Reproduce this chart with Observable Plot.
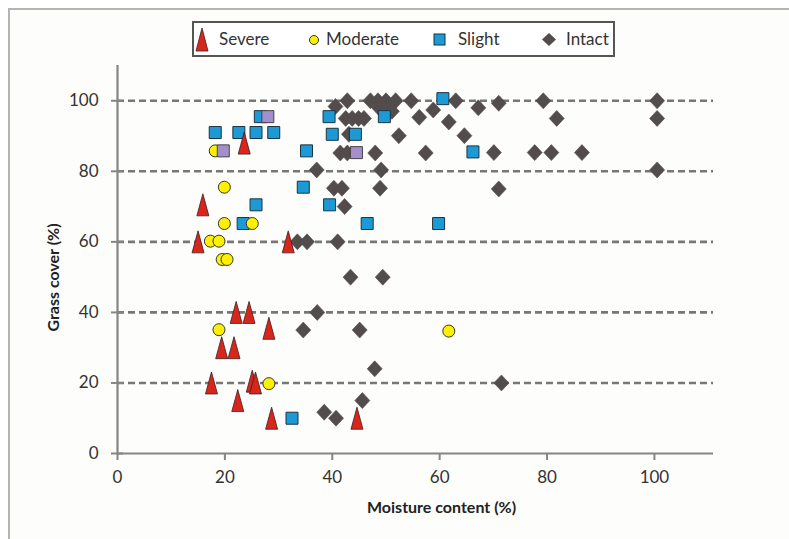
<!DOCTYPE html>
<html><head><meta charset="utf-8">
<script src="https://cdn.jsdelivr.net/npm/d3@7"></script>
<script src="https://cdn.jsdelivr.net/npm/@observablehq/plot@0.6"></script>
<style>
html,body{margin:0;padding:0;background:#fff;width:789px;height:539px;overflow:hidden;font-family:Lato,"Open Sans",sans-serif;}
#frame{position:absolute;left:8px;top:8px;width:820px;height:560px;border:2px solid #b4b4b4;background:#fdfdfb;}
#chart{position:absolute;left:0;top:0;width:789px;height:539px;padding-top:21px;box-sizing:border-box;}
#legend{position:relative;margin-left:192px;width:423px;height:36px;border:2px solid #555;box-sizing:border-box;background:#fff;}
.icon{position:absolute;top:0;}
.lab{position:absolute;top:6px;font-size:17px;color:#333;line-height:20px;}
svg.plot{display:block;}
</style></head>
<body>
<div id="frame"></div>
<div id="chart">
  <div id="legend"></div>
</div>
<script>
// ---- data ----
const seriesNames = ["Severe", "Moderate", "Slight", "Intact"];

const severeX = [15.9, 23.6, 15.0, 31.8, 22.1, 24.5, 28.2, 19.4, 21.7, 17.5, 25.1, 25.7, 22.4, 28.7, 44.6];
const severeY = [70.5, 88, 60, 60, 40, 40, 35.5, 30, 30, 20, 20.5, 20, 15, 10, 10];

const moderateX = [18.2, 19.9, 19.9, 25.1, 17.3, 18.9, 19.5, 20.4, 18.9, 28.2, 61.7];
const moderateY = [85.8, 75.5, 65.2, 65.2, 60.2, 60.2, 55, 55, 35.1, 19.8, 34.7];

const slightX = [18.2, 22.6, 25.8, 29.1, 26.6, 35.2, 34.6, 25.8, 23.4, 32.5, 39.4, 40.0, 44.3, 49.7, 60.6, 66.2, 39.5, 46.5, 59.8];
const slightY = [91, 91, 91, 91, 95.5, 85.8, 75.5, 70.5, 65.2, 10, 95.5, 90.5, 90.5, 95.5, 100.6, 85.5, 70.5, 65.2, 65.2];

// overlapping (purple) squares
const overlapX = [28.0, 19.7, 44.5];
const overlapY = [95.5, 85.8, 85.3];

const intactX = [42.8, 47.1, 48.5, 50.0, 51.8, 54.7, 63.0, 79.3, 100.5,
  40.6, 48.7, 50.5, 67.2, 71.0, 51.1, 58.8,
  42.5, 43.7, 44.9, 45.9, 56.2, 61.7, 81.8, 100.5,
  43.1, 52.4, 64.6,
  41.5, 42.8, 48.0, 57.4, 70.1, 77.7, 80.8, 86.5,
  37.1, 49.1, 100.5,
  40.3, 41.8, 48.9, 71.0,
  42.3,
  33.5, 35.3, 41.0,
  43.4, 49.4,
  37.2,
  34.6, 45.1,
  47.9, 71.5, 45.6, 38.5, 40.7];
const intactY = [100, 100, 100, 100, 100, 100, 100, 100, 100,
  98.4, 98, 98, 98, 99.3, 97, 97.4,
  95, 95, 95, 95, 95.3, 94, 95, 95,
  90.5, 90.1, 90.1,
  85.2, 85.2, 85.2, 85.2, 85.3, 85.3, 85.3, 85.3,
  80.4, 80.4, 80.4,
  75.2, 75.2, 75.2, 75,
  70,
  60, 60, 60,
  50, 50,
  40,
  35, 35,
  24, 20, 15, 11.7, 10];

const xTicks = [0, 20, 40, 60, 80, 100];
const yTicks = [0, 20, 40, 60, 80, 100];
const gridY = [20, 40, 60, 80, 100];
const xLabel = "Moisture content (%)";
const yLabel = "Grass cover (%)";

// ---- build ----
const zip = (xs, ys) => xs.map((x, i) => ({x, y: ys[i]}));
const severe = zip(severeX, severeY);
const moderate = zip(moderateX, moderateY);
const slight = zip(slightX, slightY);
const overlap = zip(overlapX, overlapY);
const intact = zip(intactX, intactY);

const triSym = {draw(c){ c.moveTo(0,-11); c.lineTo(6,11); c.lineTo(-6,11); c.closePath(); }};
const sqSym = {draw(c){ c.moveTo(-6,-6); c.lineTo(6,-6); c.lineTo(6,6); c.lineTo(-6,6); c.closePath(); }};
const diaSym = {draw(c){ c.moveTo(0,-8); c.lineTo(7.5,0); c.lineTo(0,8); c.lineTo(-7.5,0); c.closePath(); }};

const RED = "#d8261d", YEL = "#fff000", BLU = "#1b9ad6", DIA = "#524c4c", PUR = "#a38fcb";

const chart = Plot.plot({
  width: 789, height: 482,
  marginTop: 8, marginLeft: 117, marginRight: 76, marginBottom: 86,
  x: {domain: [0, 111]},
  y: {domain: [0, 110]},
  style: {background: "transparent", fontFamily: "Lato, sans-serif", fontSize: "17px", color: "#333"},
  marks: [
    Plot.ruleY(gridY, {x1: 0, x2: 111, stroke: "#777", strokeWidth: 2.6, strokeDasharray: "7,4"}),
    Plot.ruleX([0], {y1: 0, y2: 110, stroke: "#858585", strokeWidth: 2.2}),
    Plot.ruleY([0], {x1: 0, x2: 111, stroke: "#858585", strokeWidth: 2.2}),
    Plot.ruleY(yTicks, {x1: 0, x2: 0, insetLeft: -6, insetRight: -6, stroke: "#858585", strokeWidth: 2}),
    Plot.axisY({ticks: yTicks, tickSize: 0, tickPadding: 19, label: null, tickFormat: d => d}),
    Plot.axisX({ticks: xTicks, tickSize: 7, tickPadding: 10, label: null, stroke: "#858585", strokeWidth: 2, tickFormat: d => d}),
    Plot.dot(intact, {x: "x", y: "y", symbol: diaSym, r: 7, fill: DIA, stroke: DIA, strokeWidth: 0.6}),
    Plot.dot(slight, {x: "x", y: "y", symbol: sqSym, r: 6, fill: BLU, stroke: "#1d3440", strokeWidth: 1}),
    Plot.dot(moderate, {x: "x", y: "y", r: 6, fill: YEL, stroke: "#333", strokeWidth: 1}),
    Plot.dot(overlap, {x: "x", y: "y", symbol: sqSym, r: 6, fill: PUR, stroke: "#444", strokeWidth: 1}),
    Plot.dot(severe, {x: "x", y: "y", symbol: triSym, r: 6, fill: RED, stroke: "#3a2020", strokeWidth: 0.8}),
    Plot.text([xLabel], {text: d => d, frameAnchor: "bottom", dx: 26, dy: 59, fontWeight: "bold", fontSize: 16, fill: "#222"}),
    Plot.text([yLabel], {text: d => d, frameAnchor: "left", textAnchor: "middle", rotate: -90, dx: -64, dy: 18, fontWeight: "bold", fontSize: 16, fill: "#222"})
  ]
});
document.getElementById("chart").appendChild(chart);

// ---- legend ----
const legend = document.getElementById("legend");
const icons = [
  `<svg width="16" height="32" class="icon" style="left:0px"><path d="M8,5 L14,28 L2,28 Z" fill="${RED}" stroke="#3a2020" stroke-width="0.8"/></svg>`,
  `<svg width="16" height="32" class="icon" style="left:112px"><circle cx="8" cy="17" r="4.5" fill="${YEL}" stroke="#333" stroke-width="1"/></svg>`,
  `<svg width="16" height="32" class="icon" style="left:238px"><rect x="2" y="11" width="11" height="11" fill="${BLU}" stroke="#1d3440" stroke-width="1"/></svg>`,
  `<svg width="18" height="32" class="icon" style="left:346px"><path d="M9,10 L16,16.5 L9,23 L2,16.5 Z" fill="${DIA}"/></svg>`
];
const labLeft = [25, 132, 264, 372];
seriesNames.forEach((n, i) => {
  legend.insertAdjacentHTML("beforeend", icons[i]);
  legend.insertAdjacentHTML("beforeend", `<span class="lab" style="left:${labLeft[i]}px">${n}</span>`);
});
</script>
</body></html>
